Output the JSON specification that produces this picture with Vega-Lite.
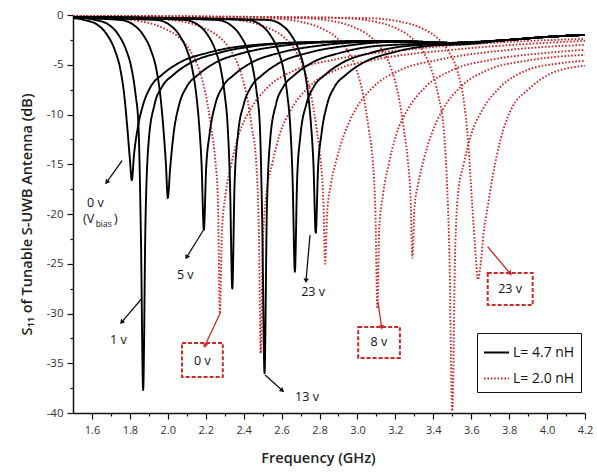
{
  "$schema": "https://vega.github.io/schema/vega-lite/v6.json",
  "width": 512,
  "height": 398,
  "autosize": "none",
  "padding": {"left": 73, "top": 15, "right": 12, "bottom": 62},
  "background": "white",
  "config": {"view": {"stroke": null}, "font": "Open Sans"},
  "datasets": {
    "curves": [
      {"c":"a","L":"L= 2.0 nH","f":1.5,"s":-0.1},{"c":"a","L":"L= 2.0 nH","f":1.675,"s":-0.3},{"c":"a","L":"L= 2.0 nH","f":1.875,"s":-0.7},{"c":"a","L":"L= 2.0 nH","f":1.975,"s":-1.3},{"c":"a","L":"L= 2.0 nH","f":2.055,"s":-2.2},{"c":"a","L":"L= 2.0 nH","f":2.115,"s":-3.5},{"c":"a","L":"L= 2.0 nH","f":2.165,"s":-5.5},{"c":"a","L":"L= 2.0 nH","f":2.2,"s":-8},{"c":"a","L":"L= 2.0 nH","f":2.23,"s":-11.5},{"c":"a","L":"L= 2.0 nH","f":2.25,"s":-14.5},{"c":"a","L":"L= 2.0 nH","f":2.264,"s":-18.5},{"c":"a","L":"L= 2.0 nH","f":2.275,"s":-30},{"c":"a","L":"L= 2.0 nH","f":2.285,"s":-21.9},{"c":"a","L":"L= 2.0 nH","f":2.305,"s":-18},{"c":"a","L":"L= 2.0 nH","f":2.335,"s":-15},{"c":"a","L":"L= 2.0 nH","f":2.375,"s":-12},{"c":"a","L":"L= 2.0 nH","f":2.435,"s":-9.5},{"c":"a","L":"L= 2.0 nH","f":2.525,"s":-7.3},{"c":"a","L":"L= 2.0 nH","f":2.675,"s":-5.5},{"c":"a","L":"L= 2.0 nH","f":2.875,"s":-4.5},{"c":"a","L":"L= 2.0 nH","f":3.3,"s":-3.4},{"c":"a","L":"L= 2.0 nH","f":3.8,"s":-2.7},{"c":"a","L":"L= 2.0 nH","f":4.2,"s":-2.4},
      {"c":"b","L":"L= 2.0 nH","f":1.5,"s":-0.1},{"c":"b","L":"L= 2.0 nH","f":1.89,"s":-0.3},{"c":"b","L":"L= 2.0 nH","f":2.09,"s":-0.7},{"c":"b","L":"L= 2.0 nH","f":2.19,"s":-1.3},{"c":"b","L":"L= 2.0 nH","f":2.27,"s":-2.2},{"c":"b","L":"L= 2.0 nH","f":2.33,"s":-3.5},{"c":"b","L":"L= 2.0 nH","f":2.38,"s":-5.5},{"c":"b","L":"L= 2.0 nH","f":2.415,"s":-8},{"c":"b","L":"L= 2.0 nH","f":2.445,"s":-11.5},{"c":"b","L":"L= 2.0 nH","f":2.465,"s":-14.5},{"c":"b","L":"L= 2.0 nH","f":2.48,"s":-21.7},{"c":"b","L":"L= 2.0 nH","f":2.49,"s":-34},{"c":"b","L":"L= 2.0 nH","f":2.5,"s":-23.5},{"c":"b","L":"L= 2.0 nH","f":2.52,"s":-18},{"c":"b","L":"L= 2.0 nH","f":2.55,"s":-15},{"c":"b","L":"L= 2.0 nH","f":2.59,"s":-12},{"c":"b","L":"L= 2.0 nH","f":2.65,"s":-9.5},{"c":"b","L":"L= 2.0 nH","f":2.74,"s":-7.3},{"c":"b","L":"L= 2.0 nH","f":2.89,"s":-5.5},{"c":"b","L":"L= 2.0 nH","f":3.09,"s":-4.5},{"c":"b","L":"L= 2.0 nH","f":3.5,"s":-3.5},{"c":"b","L":"L= 2.0 nH","f":3.9,"s":-2.9},{"c":"b","L":"L= 2.0 nH","f":4.2,"s":-2.6},
      {"c":"c","L":"L= 2.0 nH","f":1.5,"s":-0.1},{"c":"c","L":"L= 2.0 nH","f":2.23,"s":-0.3},{"c":"c","L":"L= 2.0 nH","f":2.43,"s":-0.7},{"c":"c","L":"L= 2.0 nH","f":2.53,"s":-1.3},{"c":"c","L":"L= 2.0 nH","f":2.61,"s":-2.2},{"c":"c","L":"L= 2.0 nH","f":2.67,"s":-3.5},{"c":"c","L":"L= 2.0 nH","f":2.72,"s":-5.5},{"c":"c","L":"L= 2.0 nH","f":2.755,"s":-8},{"c":"c","L":"L= 2.0 nH","f":2.785,"s":-11.5},{"c":"c","L":"L= 2.0 nH","f":2.805,"s":-14.5},{"c":"c","L":"L= 2.0 nH","f":2.82,"s":-18.5},{"c":"c","L":"L= 2.0 nH","f":2.83,"s":-25},{"c":"c","L":"L= 2.0 nH","f":2.84,"s":-20},{"c":"c","L":"L= 2.0 nH","f":2.86,"s":-17},{"c":"c","L":"L= 2.0 nH","f":2.89,"s":-14.5},{"c":"c","L":"L= 2.0 nH","f":2.93,"s":-12},{"c":"c","L":"L= 2.0 nH","f":2.99,"s":-9.5},{"c":"c","L":"L= 2.0 nH","f":3.08,"s":-7.3},{"c":"c","L":"L= 2.0 nH","f":3.23,"s":-5.5},{"c":"c","L":"L= 2.0 nH","f":3.43,"s":-4.5},{"c":"c","L":"L= 2.0 nH","f":3.8,"s":-3.5},{"c":"c","L":"L= 2.0 nH","f":4.2,"s":-3.0},
      {"c":"d","L":"L= 2.0 nH","f":1.5,"s":-0.1},{"c":"d","L":"L= 2.0 nH","f":2.505,"s":-0.3},{"c":"d","L":"L= 2.0 nH","f":2.705,"s":-0.7},{"c":"d","L":"L= 2.0 nH","f":2.805,"s":-1.3},{"c":"d","L":"L= 2.0 nH","f":2.885,"s":-2.2},{"c":"d","L":"L= 2.0 nH","f":2.945,"s":-3.5},{"c":"d","L":"L= 2.0 nH","f":2.995,"s":-5.5},{"c":"d","L":"L= 2.0 nH","f":3.03,"s":-8},{"c":"d","L":"L= 2.0 nH","f":3.06,"s":-11.5},{"c":"d","L":"L= 2.0 nH","f":3.08,"s":-14.5},{"c":"d","L":"L= 2.0 nH","f":3.095,"s":-20},{"c":"d","L":"L= 2.0 nH","f":3.105,"s":-29.5},{"c":"d","L":"L= 2.0 nH","f":3.115,"s":-21.5},{"c":"d","L":"L= 2.0 nH","f":3.135,"s":-18},{"c":"d","L":"L= 2.0 nH","f":3.165,"s":-15},{"c":"d","L":"L= 2.0 nH","f":3.205,"s":-12},{"c":"d","L":"L= 2.0 nH","f":3.265,"s":-9.5},{"c":"d","L":"L= 2.0 nH","f":3.355,"s":-7.3},{"c":"d","L":"L= 2.0 nH","f":3.505,"s":-5.5},{"c":"d","L":"L= 2.0 nH","f":3.705,"s":-4.5},{"c":"d","L":"L= 2.0 nH","f":4.0,"s":-3.8},{"c":"d","L":"L= 2.0 nH","f":4.2,"s":-3.5},
      {"c":"e","L":"L= 2.0 nH","f":1.5,"s":-0.1},{"c":"e","L":"L= 2.0 nH","f":2.69,"s":-0.3},{"c":"e","L":"L= 2.0 nH","f":2.89,"s":-0.7},{"c":"e","L":"L= 2.0 nH","f":2.99,"s":-1.3},{"c":"e","L":"L= 2.0 nH","f":3.07,"s":-2.2},{"c":"e","L":"L= 2.0 nH","f":3.13,"s":-3.5},{"c":"e","L":"L= 2.0 nH","f":3.18,"s":-5.5},{"c":"e","L":"L= 2.0 nH","f":3.215,"s":-8},{"c":"e","L":"L= 2.0 nH","f":3.245,"s":-11.5},{"c":"e","L":"L= 2.0 nH","f":3.265,"s":-14.5},{"c":"e","L":"L= 2.0 nH","f":3.28,"s":-18.3},{"c":"e","L":"L= 2.0 nH","f":3.29,"s":-24.4},{"c":"e","L":"L= 2.0 nH","f":3.3,"s":-19.5},{"c":"e","L":"L= 2.0 nH","f":3.32,"s":-17},{"c":"e","L":"L= 2.0 nH","f":3.35,"s":-14.5},{"c":"e","L":"L= 2.0 nH","f":3.39,"s":-12},{"c":"e","L":"L= 2.0 nH","f":3.45,"s":-9.5},{"c":"e","L":"L= 2.0 nH","f":3.54,"s":-7.3},{"c":"e","L":"L= 2.0 nH","f":3.69,"s":-5.5},{"c":"e","L":"L= 2.0 nH","f":3.89,"s":-4.6},{"c":"e","L":"L= 2.0 nH","f":4.2,"s":-4.0},
      {"c":"f","L":"L= 2.0 nH","f":1.5,"s":-0.1},{"c":"f","L":"L= 2.0 nH","f":2.9,"s":-0.3},{"c":"f","L":"L= 2.0 nH","f":3.1,"s":-0.7},{"c":"f","L":"L= 2.0 nH","f":3.2,"s":-1.3},{"c":"f","L":"L= 2.0 nH","f":3.28,"s":-2.2},{"c":"f","L":"L= 2.0 nH","f":3.34,"s":-3.5},{"c":"f","L":"L= 2.0 nH","f":3.39,"s":-5.5},{"c":"f","L":"L= 2.0 nH","f":3.425,"s":-8},{"c":"f","L":"L= 2.0 nH","f":3.455,"s":-11.5},{"c":"f","L":"L= 2.0 nH","f":3.47,"s":-16},{"c":"f","L":"L= 2.0 nH","f":3.485,"s":-24},{"c":"f","L":"L= 2.0 nH","f":3.5,"s":-39.8},{"c":"f","L":"L= 2.0 nH","f":3.515,"s":-24},{"c":"f","L":"L= 2.0 nH","f":3.53,"s":-18},{"c":"f","L":"L= 2.0 nH","f":3.56,"s":-15},{"c":"f","L":"L= 2.0 nH","f":3.6,"s":-12},{"c":"f","L":"L= 2.0 nH","f":3.66,"s":-9.5},{"c":"f","L":"L= 2.0 nH","f":3.75,"s":-7.3},{"c":"f","L":"L= 2.0 nH","f":3.9,"s":-5.5},{"c":"f","L":"L= 2.0 nH","f":4.05,"s":-4.9},{"c":"f","L":"L= 2.0 nH","f":4.2,"s":-4.6},
      {"c":"g","L":"L= 2.0 nH","f":1.5,"s":-0.1},{"c":"g","L":"L= 2.0 nH","f":3.035,"s":-0.3},{"c":"g","L":"L= 2.0 nH","f":3.235,"s":-0.7},{"c":"g","L":"L= 2.0 nH","f":3.335,"s":-1.3},{"c":"g","L":"L= 2.0 nH","f":3.415,"s":-2.2},{"c":"g","L":"L= 2.0 nH","f":3.475,"s":-3.5},{"c":"g","L":"L= 2.0 nH","f":3.525,"s":-5.5},{"c":"g","L":"L= 2.0 nH","f":3.56,"s":-8.5},{"c":"g","L":"L= 2.0 nH","f":3.585,"s":-13},{"c":"g","L":"L= 2.0 nH","f":3.605,"s":-19},{"c":"g","L":"L= 2.0 nH","f":3.625,"s":-24.5},{"c":"g","L":"L= 2.0 nH","f":3.635,"s":-26.6},{"c":"g","L":"L= 2.0 nH","f":3.65,"s":-25},{"c":"g","L":"L= 2.0 nH","f":3.665,"s":-22},{"c":"g","L":"L= 2.0 nH","f":3.685,"s":-19.5},{"c":"g","L":"L= 2.0 nH","f":3.715,"s":-16},{"c":"g","L":"L= 2.0 nH","f":3.755,"s":-12.5},{"c":"g","L":"L= 2.0 nH","f":3.81,"s":-9.5},{"c":"g","L":"L= 2.0 nH","f":3.9,"s":-7.5},{"c":"g","L":"L= 2.0 nH","f":4.03,"s":-5.8},{"c":"g","L":"L= 2.0 nH","f":4.2,"s":-5.1},
      {"c":"A","L":"L= 4.7 nH","f":1.5,"s":-0.3},{"c":"A","L":"L= 4.7 nH","f":1.56,"s":-0.5},{"c":"A","L":"L= 4.7 nH","f":1.63,"s":-1.0},{"c":"A","L":"L= 4.7 nH","f":1.68,"s":-2.0},{"c":"A","L":"L= 4.7 nH","f":1.72,"s":-3.5},{"c":"A","L":"L= 4.7 nH","f":1.75,"s":-5.5},{"c":"A","L":"L= 4.7 nH","f":1.77,"s":-8.0},{"c":"A","L":"L= 4.7 nH","f":1.785,"s":-11},{"c":"A","L":"L= 4.7 nH","f":1.8,"s":-14.5},{"c":"A","L":"L= 4.7 nH","f":1.81,"s":-16.6},{"c":"A","L":"L= 4.7 nH","f":1.822,"s":-14},{"c":"A","L":"L= 4.7 nH","f":1.84,"s":-11.5},{"c":"A","L":"L= 4.7 nH","f":1.87,"s":-9},{"c":"A","L":"L= 4.7 nH","f":1.91,"s":-7.2},{"c":"A","L":"L= 4.7 nH","f":1.97,"s":-6},{"c":"A","L":"L= 4.7 nH","f":2.06,"s":-4.8},{"c":"A","L":"L= 4.7 nH","f":2.21,"s":-3.8},{"c":"A","L":"L= 4.7 nH","f":2.41,"s":-3.1},{"c":"A","L":"L= 4.7 nH","f":2.8,"s":-2.7},{"c":"A","L":"L= 4.7 nH","f":3.2,"s":-2.6},{"c":"A","L":"L= 4.7 nH","f":3.5,"s":-2.8},{"c":"A","L":"L= 4.7 nH","f":3.8,"s":-2.5},{"c":"A","L":"L= 4.7 nH","f":4.0,"s":-2.2},{"c":"A","L":"L= 4.7 nH","f":4.2,"s":-2.0},
      {"c":"B","L":"L= 4.7 nH","f":1.5,"s":-0.2},{"c":"B","L":"L= 4.7 nH","f":1.62,"s":-0.5},{"c":"B","L":"L= 4.7 nH","f":1.69,"s":-1.0},{"c":"B","L":"L= 4.7 nH","f":1.74,"s":-2.0},{"c":"B","L":"L= 4.7 nH","f":1.78,"s":-3.5},{"c":"B","L":"L= 4.7 nH","f":1.81,"s":-5.5},{"c":"B","L":"L= 4.7 nH","f":1.83,"s":-8.0},{"c":"B","L":"L= 4.7 nH","f":1.845,"s":-11},{"c":"B","L":"L= 4.7 nH","f":1.858,"s":-22},{"c":"B","L":"L= 4.7 nH","f":1.87,"s":-37.7},{"c":"B","L":"L= 4.7 nH","f":1.882,"s":-21},{"c":"B","L":"L= 4.7 nH","f":1.9,"s":-12.5},{"c":"B","L":"L= 4.7 nH","f":1.93,"s":-9},{"c":"B","L":"L= 4.7 nH","f":1.97,"s":-7.2},{"c":"B","L":"L= 4.7 nH","f":2.03,"s":-6},{"c":"B","L":"L= 4.7 nH","f":2.12,"s":-4.8},{"c":"B","L":"L= 4.7 nH","f":2.27,"s":-3.8},{"c":"B","L":"L= 4.7 nH","f":2.47,"s":-3.1},{"c":"B","L":"L= 4.7 nH","f":2.8,"s":-2.7},{"c":"B","L":"L= 4.7 nH","f":3.2,"s":-2.6},{"c":"B","L":"L= 4.7 nH","f":3.5,"s":-2.8},{"c":"B","L":"L= 4.7 nH","f":3.8,"s":-2.5},{"c":"B","L":"L= 4.7 nH","f":4.0,"s":-2.2},{"c":"B","L":"L= 4.7 nH","f":4.2,"s":-2.0},
      {"c":"C","L":"L= 4.7 nH","f":1.5,"s":-0.3},{"c":"C","L":"L= 4.7 nH","f":1.75,"s":-0.5},{"c":"C","L":"L= 4.7 nH","f":1.82,"s":-1.0},{"c":"C","L":"L= 4.7 nH","f":1.87,"s":-2.0},{"c":"C","L":"L= 4.7 nH","f":1.91,"s":-3.5},{"c":"C","L":"L= 4.7 nH","f":1.94,"s":-5.5},{"c":"C","L":"L= 4.7 nH","f":1.96,"s":-8.0},{"c":"C","L":"L= 4.7 nH","f":1.975,"s":-11},{"c":"C","L":"L= 4.7 nH","f":1.99,"s":-15},{"c":"C","L":"L= 4.7 nH","f":2.0,"s":-18.4},{"c":"C","L":"L= 4.7 nH","f":2.012,"s":-15.5},{"c":"C","L":"L= 4.7 nH","f":2.03,"s":-12},{"c":"C","L":"L= 4.7 nH","f":2.06,"s":-9},{"c":"C","L":"L= 4.7 nH","f":2.1,"s":-7.2},{"c":"C","L":"L= 4.7 nH","f":2.16,"s":-6},{"c":"C","L":"L= 4.7 nH","f":2.25,"s":-4.8},{"c":"C","L":"L= 4.7 nH","f":2.4,"s":-3.8},{"c":"C","L":"L= 4.7 nH","f":2.6,"s":-3.1},{"c":"C","L":"L= 4.7 nH","f":2.9,"s":-2.7},{"c":"C","L":"L= 4.7 nH","f":3.2,"s":-2.6},{"c":"C","L":"L= 4.7 nH","f":3.5,"s":-2.8},{"c":"C","L":"L= 4.7 nH","f":3.8,"s":-2.5},{"c":"C","L":"L= 4.7 nH","f":4.0,"s":-2.2},{"c":"C","L":"L= 4.7 nH","f":4.2,"s":-2.0},
      {"c":"D","L":"L= 4.7 nH","f":1.5,"s":-0.3},{"c":"D","L":"L= 4.7 nH","f":1.94,"s":-0.5},{"c":"D","L":"L= 4.7 nH","f":2.01,"s":-1.0},{"c":"D","L":"L= 4.7 nH","f":2.06,"s":-2.0},{"c":"D","L":"L= 4.7 nH","f":2.1,"s":-3.5},{"c":"D","L":"L= 4.7 nH","f":2.13,"s":-5.5},{"c":"D","L":"L= 4.7 nH","f":2.15,"s":-8.0},{"c":"D","L":"L= 4.7 nH","f":2.165,"s":-11},{"c":"D","L":"L= 4.7 nH","f":2.178,"s":-15},{"c":"D","L":"L= 4.7 nH","f":2.19,"s":-21.6},{"c":"D","L":"L= 4.7 nH","f":2.202,"s":-15.5},{"c":"D","L":"L= 4.7 nH","f":2.22,"s":-12},{"c":"D","L":"L= 4.7 nH","f":2.25,"s":-9},{"c":"D","L":"L= 4.7 nH","f":2.29,"s":-7.2},{"c":"D","L":"L= 4.7 nH","f":2.35,"s":-6},{"c":"D","L":"L= 4.7 nH","f":2.44,"s":-4.8},{"c":"D","L":"L= 4.7 nH","f":2.59,"s":-3.8},{"c":"D","L":"L= 4.7 nH","f":2.79,"s":-3.1},{"c":"D","L":"L= 4.7 nH","f":3.1,"s":-2.7},{"c":"D","L":"L= 4.7 nH","f":3.5,"s":-2.8},{"c":"D","L":"L= 4.7 nH","f":3.8,"s":-2.5},{"c":"D","L":"L= 4.7 nH","f":4.0,"s":-2.2},{"c":"D","L":"L= 4.7 nH","f":4.2,"s":-2.0},
      {"c":"E","L":"L= 4.7 nH","f":1.5,"s":-0.2},{"c":"E","L":"L= 4.7 nH","f":2.09,"s":-0.5},{"c":"E","L":"L= 4.7 nH","f":2.16,"s":-1.0},{"c":"E","L":"L= 4.7 nH","f":2.21,"s":-2.0},{"c":"E","L":"L= 4.7 nH","f":2.25,"s":-3.5},{"c":"E","L":"L= 4.7 nH","f":2.28,"s":-5.5},{"c":"E","L":"L= 4.7 nH","f":2.3,"s":-8.0},{"c":"E","L":"L= 4.7 nH","f":2.315,"s":-11},{"c":"E","L":"L= 4.7 nH","f":2.328,"s":-17},{"c":"E","L":"L= 4.7 nH","f":2.34,"s":-27.5},{"c":"E","L":"L= 4.7 nH","f":2.352,"s":-17},{"c":"E","L":"L= 4.7 nH","f":2.37,"s":-12},{"c":"E","L":"L= 4.7 nH","f":2.4,"s":-9},{"c":"E","L":"L= 4.7 nH","f":2.44,"s":-7.2},{"c":"E","L":"L= 4.7 nH","f":2.5,"s":-6},{"c":"E","L":"L= 4.7 nH","f":2.59,"s":-4.8},{"c":"E","L":"L= 4.7 nH","f":2.74,"s":-3.8},{"c":"E","L":"L= 4.7 nH","f":2.94,"s":-3.1},{"c":"E","L":"L= 4.7 nH","f":3.2,"s":-2.7},{"c":"E","L":"L= 4.7 nH","f":3.5,"s":-2.8},{"c":"E","L":"L= 4.7 nH","f":3.8,"s":-2.5},{"c":"E","L":"L= 4.7 nH","f":4.0,"s":-2.2},{"c":"E","L":"L= 4.7 nH","f":4.2,"s":-2.0},
      {"c":"F","L":"L= 4.7 nH","f":1.5,"s":-0.2},{"c":"F","L":"L= 4.7 nH","f":2.26,"s":-0.5},{"c":"F","L":"L= 4.7 nH","f":2.33,"s":-1.0},{"c":"F","L":"L= 4.7 nH","f":2.38,"s":-2.0},{"c":"F","L":"L= 4.7 nH","f":2.42,"s":-3.5},{"c":"F","L":"L= 4.7 nH","f":2.45,"s":-5.5},{"c":"F","L":"L= 4.7 nH","f":2.47,"s":-8.0},{"c":"F","L":"L= 4.7 nH","f":2.485,"s":-11},{"c":"F","L":"L= 4.7 nH","f":2.498,"s":-21},{"c":"F","L":"L= 4.7 nH","f":2.51,"s":-36},{"c":"F","L":"L= 4.7 nH","f":2.522,"s":-20},{"c":"F","L":"L= 4.7 nH","f":2.54,"s":-12.5},{"c":"F","L":"L= 4.7 nH","f":2.57,"s":-9},{"c":"F","L":"L= 4.7 nH","f":2.61,"s":-7.2},{"c":"F","L":"L= 4.7 nH","f":2.67,"s":-6},{"c":"F","L":"L= 4.7 nH","f":2.76,"s":-4.8},{"c":"F","L":"L= 4.7 nH","f":2.91,"s":-3.8},{"c":"F","L":"L= 4.7 nH","f":3.11,"s":-3.1},{"c":"F","L":"L= 4.7 nH","f":3.5,"s":-2.8},{"c":"F","L":"L= 4.7 nH","f":3.8,"s":-2.5},{"c":"F","L":"L= 4.7 nH","f":4.0,"s":-2.2},{"c":"F","L":"L= 4.7 nH","f":4.2,"s":-2.0},
      {"c":"G","L":"L= 4.7 nH","f":1.5,"s":-0.2},{"c":"G","L":"L= 4.7 nH","f":2.42,"s":-0.5},{"c":"G","L":"L= 4.7 nH","f":2.49,"s":-1.0},{"c":"G","L":"L= 4.7 nH","f":2.54,"s":-2.0},{"c":"G","L":"L= 4.7 nH","f":2.58,"s":-3.5},{"c":"G","L":"L= 4.7 nH","f":2.61,"s":-5.5},{"c":"G","L":"L= 4.7 nH","f":2.63,"s":-8.0},{"c":"G","L":"L= 4.7 nH","f":2.645,"s":-11},{"c":"G","L":"L= 4.7 nH","f":2.658,"s":-16.5},{"c":"G","L":"L= 4.7 nH","f":2.67,"s":-25.8},{"c":"G","L":"L= 4.7 nH","f":2.682,"s":-16.5},{"c":"G","L":"L= 4.7 nH","f":2.7,"s":-12},{"c":"G","L":"L= 4.7 nH","f":2.73,"s":-9},{"c":"G","L":"L= 4.7 nH","f":2.77,"s":-7.2},{"c":"G","L":"L= 4.7 nH","f":2.83,"s":-6},{"c":"G","L":"L= 4.7 nH","f":2.92,"s":-4.8},{"c":"G","L":"L= 4.7 nH","f":3.07,"s":-3.8},{"c":"G","L":"L= 4.7 nH","f":3.27,"s":-3.1},{"c":"G","L":"L= 4.7 nH","f":3.5,"s":-2.9},{"c":"G","L":"L= 4.7 nH","f":3.8,"s":-2.5},{"c":"G","L":"L= 4.7 nH","f":4.0,"s":-2.2},{"c":"G","L":"L= 4.7 nH","f":4.2,"s":-2.0},
      {"c":"H","L":"L= 4.7 nH","f":1.5,"s":-0.2},{"c":"H","L":"L= 4.7 nH","f":2.53,"s":-0.5},{"c":"H","L":"L= 4.7 nH","f":2.6,"s":-1.0},{"c":"H","L":"L= 4.7 nH","f":2.65,"s":-2.0},{"c":"H","L":"L= 4.7 nH","f":2.69,"s":-3.5},{"c":"H","L":"L= 4.7 nH","f":2.72,"s":-5.5},{"c":"H","L":"L= 4.7 nH","f":2.74,"s":-8.0},{"c":"H","L":"L= 4.7 nH","f":2.755,"s":-11},{"c":"H","L":"L= 4.7 nH","f":2.768,"s":-15},{"c":"H","L":"L= 4.7 nH","f":2.78,"s":-21.9},{"c":"H","L":"L= 4.7 nH","f":2.792,"s":-15.5},{"c":"H","L":"L= 4.7 nH","f":2.81,"s":-12},{"c":"H","L":"L= 4.7 nH","f":2.84,"s":-9},{"c":"H","L":"L= 4.7 nH","f":2.88,"s":-7.2},{"c":"H","L":"L= 4.7 nH","f":2.94,"s":-6},{"c":"H","L":"L= 4.7 nH","f":3.03,"s":-4.8},{"c":"H","L":"L= 4.7 nH","f":3.18,"s":-3.8},{"c":"H","L":"L= 4.7 nH","f":3.38,"s":-3.1},{"c":"H","L":"L= 4.7 nH","f":3.6,"s":-2.9},{"c":"H","L":"L= 4.7 nH","f":3.8,"s":-2.5},{"c":"H","L":"L= 4.7 nH","f":4.0,"s":-2.2},{"c":"H","L":"L= 4.7 nH","f":4.2,"s":-2.0}
    ],
    "labels": [
      {"f":1.618,"s":-18.9,"t":"0 v"},
      {"f":1.739,"s":-32.66,"t":"1 v"},
      {"f":2.092,"s":-26.13,"t":"5 v"},
      {"f":2.734,"s":-38.39,"t":"13 v"},
      {"f":2.766,"s":-27.84,"t":"23 v"},
      {"f":2.182,"s":-34.77,"t":"0 v"},
      {"f":3.113,"s":-32.9,"t":"8 v"},
      {"f":3.805,"s":-27.54,"t":"23 v"},
      {"f":1.582,"s":-20.5,"t":"(V"},
      {"f":1.726,"s":-20.5,"t":")"}
    ],
    "sub": [{"f":1.662,"s":-21.0,"t":"bias"}],
    "boxes": [
      {"f":2.075,"f2":2.29,"s":-32.96,"s2":-36.38},
      {"f":3.004,"f2":3.224,"s":-31.36,"s2":-34.47},
      {"f":3.687,"f2":3.924,"s":-25.93,"s2":-29.15}
    ],
    "arrowsK": [
      {"f":1.68,"s":-16.75,"f2":1.759,"s2":-14.64,"a":215.5},
      {"f":1.759,"s":-30.82,"f2":1.864,"s2":-28.47,"a":220.5},
      {"f":2.101,"s":-24.29,"f2":2.188,"s2":-21.61,"a":212},
      {"f":2.601,"s":-37.69,"f2":2.513,"s2":-36.18,"a":131.9},
      {"f":2.729,"s":-26.63,"f2":2.75,"s2":-22.11,"a":185}
    ],
    "arrowsR": [
      {"f":2.197,"s":-33.17,"f2":2.276,"s2":-29.98,"a":205.3},
      {"f":3.127,"s":-31.33,"f2":3.108,"s2":-28.81,"a":171.6},
      {"f":3.803,"s":-25.93,"f2":3.687,"s2":-23.29,"a":140.1}
    ]
  },
  "encoding": {
    "x": {
      "field": "f", "type": "quantitative",
      "scale": {"domain": [1.5, 4.2], "nice": false, "zero": false},
      "axis": {
        "title": "Frequency (GHz)",
        "titleX": 245,
        "values": [1.6,1.7,1.8,1.9,2.0,2.1,2.2,2.3,2.4,2.5,2.6,2.7,2.8,2.9,3.0,3.1,3.2,3.3,3.4,3.5,3.6,3.7,3.8,3.9,4.0,4.1,4.2],
        "labelExpr": "round(datum.value*10) % 2 == 0 ? format(datum.value, '.1f') : ''",
        "tickSize": {"condition": {"test": "round(datum.value*10) % 2 == 0", "value": 6}, "value": 3},
        "grid": false, "labelOverlap": false, "labelFlush": false,
        "domainColor": "#111", "domainWidth": 1.5, "tickColor": "#111", "tickWidth": 1.2,
        "labelFont": "Open Sans", "labelFontSize": 11, "labelColor": "#333", "labelPadding": 5,
        "titleFont": "Open Sans", "titleFontSize": 14.5, "titleFontWeight": 600, "titleColor": "#222", "titlePadding": 16
      }
    },
    "y": {
      "field": "s", "type": "quantitative",
      "scale": {"domain": [-40, 0], "nice": false, "zero": false},
      "axis": {
        "title": "S₁₁ of Tunable S-UWB Antenna (dB)",
        "values": [-40,-37.5,-35,-32.5,-30,-27.5,-25,-22.5,-20,-17.5,-15,-12.5,-10,-7.5,-5,-2.5,0],
        "labelExpr": "datum.value % 5 == 0 ? (datum.value == 0 ? '0' : '-' + format(-datum.value, 'd')) : ''",
        "tickSize": {"condition": {"test": "datum.value % 5 == 0", "value": 6}, "value": 3},
        "grid": false, "labelOverlap": false, "labelFlush": false,
        "domainColor": "#111", "domainWidth": 1.5, "tickColor": "#111", "tickWidth": 1.2,
        "labelFont": "Open Sans", "labelFontSize": 11.5, "labelColor": "#333", "labelPadding": 4,
        "titleFont": "Open Sans", "titleFontSize": 14.5, "titleFontWeight": 600, "titleColor": "#222", "titlePadding": 12
      }
    }
  },
  "layer": [
    {
      "data": {"name": "curves"},
      "mark": {"type": "line", "interpolate": "monotone", "strokeWidth": 1.9, "clip": true},
      "encoding": {
        "detail": {"field": "c", "type": "nominal"},
        "color": {
          "field": "L", "type": "nominal",
          "scale": {"domain": ["L= 4.7 nH", "L= 2.0 nH"], "range": ["#000000", "#cc2a2a"]},
          "legend": {"orient": "none", "legendX": 404, "legendY": 318, "title": null, "symbolType": "stroke", "symbolSize": 625, "symbolStrokeWidth": 2, "labelFont": "Open Sans", "labelFontSize": 14, "labelColor": "#111", "padding": 6, "rowPadding": 5, "strokeColor": "#111", "fillColor": "white", "labelOffset": 3}
        },
        "strokeDash": {
          "field": "L", "type": "nominal",
          "scale": {"domain": ["L= 4.7 nH", "L= 2.0 nH"], "range": [[1, 0], [1.6, 1.8]]},
          "legend": {"orient": "none", "legendX": 404, "legendY": 318, "title": null, "symbolType": "stroke", "symbolSize": 625, "symbolStrokeWidth": 2, "labelFont": "Open Sans", "labelFontSize": 14, "labelColor": "#111", "padding": 6, "rowPadding": 5, "strokeColor": "#111", "fillColor": "white", "labelOffset": 3}
        }
      }
    },
    {
      "data": {"name": "boxes"},
      "mark": {"type": "rect", "fill": null, "fillOpacity": 0, "stroke": "#cc2a2a", "strokeWidth": 2, "strokeDash": [4, 2]},
      "encoding": {"x2": {"field": "f2"}, "y2": {"field": "s2"}}
    },
    {
      "data": {"name": "arrowsK"},
      "mark": {"type": "rule", "color": "#111", "strokeWidth": 1.3},
      "encoding": {"x2": {"field": "f2"}, "y2": {"field": "s2"}}
    },
    {
      "data": {"name": "arrowsK"},
      "mark": {"type": "point", "shape": "triangle", "filled": true, "color": "#111", "size": 30, "opacity": 1},
      "encoding": {"angle": {"field": "a", "type": "quantitative", "scale": null}}
    },
    {
      "data": {"name": "arrowsR"},
      "mark": {"type": "rule", "color": "#cc2a2a", "strokeWidth": 1.3},
      "encoding": {"x2": {"field": "f2"}, "y2": {"field": "s2"}}
    },
    {
      "data": {"name": "arrowsR"},
      "mark": {"type": "point", "shape": "triangle", "filled": true, "color": "#cc2a2a", "size": 30, "opacity": 1},
      "encoding": {"angle": {"field": "a", "type": "quantitative", "scale": null}}
    },
    {
      "data": {"name": "labels"},
      "mark": {"type": "text", "font": "Open Sans", "fontSize": 12.5, "color": "#111", "align": "center", "baseline": "middle"},
      "encoding": {"text": {"field": "t"}}
    },
    {
      "data": {"name": "sub"},
      "mark": {"type": "text", "font": "Open Sans", "fontSize": 8.5, "color": "#111", "align": "center", "baseline": "middle"},
      "encoding": {"text": {"field": "t"}}
    }
  ]
}
